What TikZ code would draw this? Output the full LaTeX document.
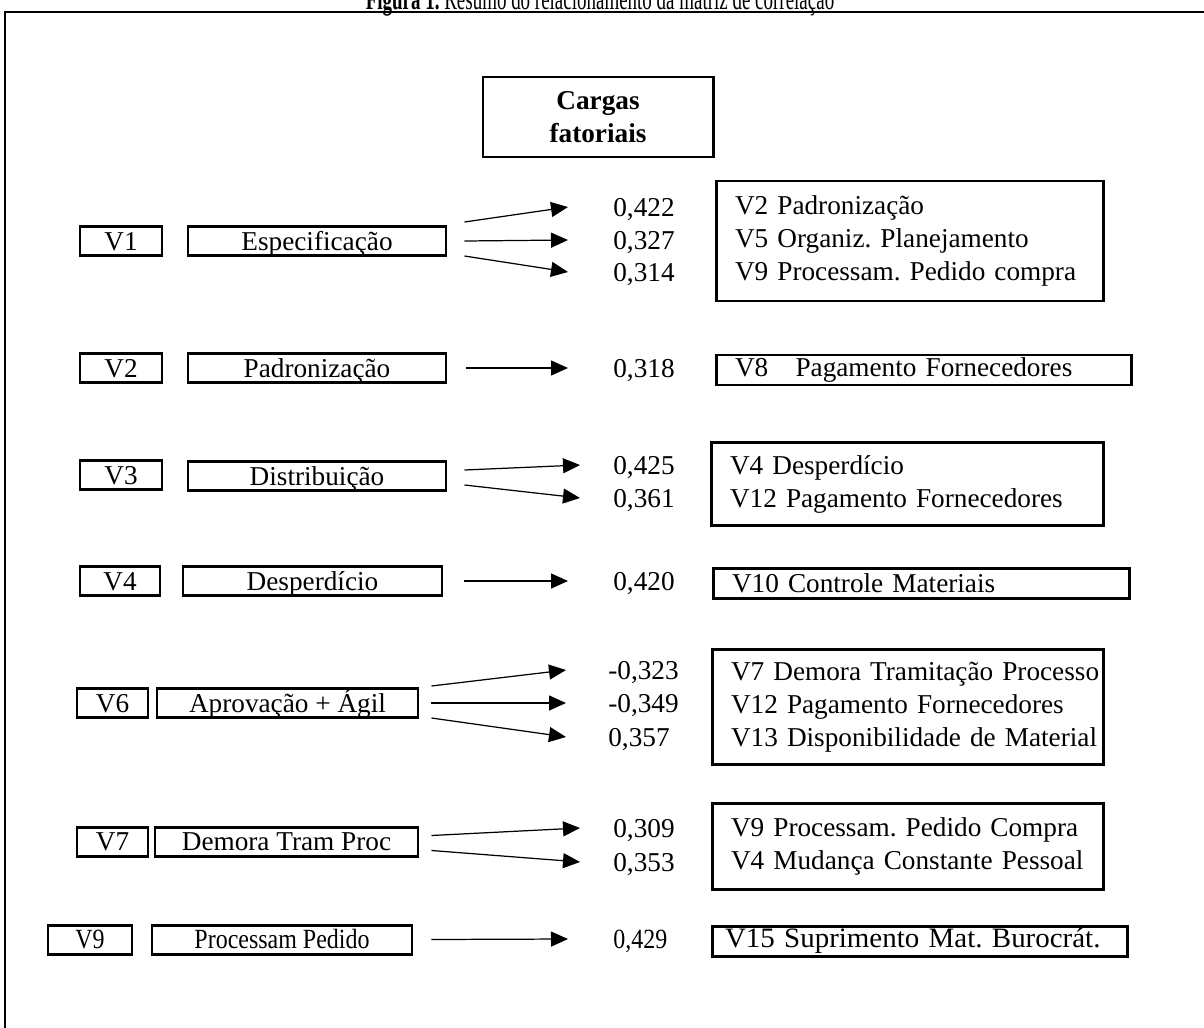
\documentclass[tikz,border=0pt]{standalone}
\usepackage{fontspec}
\setmainfont{Liberation Serif}
\usepackage{graphicx}
\usetikzlibrary{arrows.meta}
\frenchspacing
\hyphenpenalty=10000

\newcommand\cnd[1]{\scalebox{0.88}[1.02]{#1}}

\tikzset{
  lbl/.style = {draw, line width = 1.7pt, inner sep = 0pt, minimum height = 29*0.02cm, text height = 0.36cm, text depth = 0pt},
  grp/.style = {draw, line width = 1.7pt, inner xsep = 0.38cm, inner ysep = 0pt, align = left},
  val/.style = {anchor = west, inner sep = 0pt, text height = 0.36cm, text depth = 0pt},
  link/.style = {-{Triangle[length = 0.34cm, width = 0.3cm]}, line width = 0.7pt},
}

\begin{document}
\begin{tikzpicture}[x = 0.02cm, y = -0.02cm, font = \fontsize{15.5}{18.8}\selectfont]
\def\pxl{0.02cm}
\useasboundingbox (0, 0) rectangle (1204, 1028);

% title and frame
\node (title) [anchor = base, inner sep = 0pt, font = \fontsize{12}{14}\selectfont] at (600, 9) {\scalebox{0.9}[1.45]{\textbf{Figura 1.} Resumo do relacionamento da matriz de correlação}};
\draw [line width = 1.7pt] (5, 1040) -- (5, 12) -- (1215, 12);

% header
\node (cargas) [draw, line width = 1.7pt, minimum width = 230*\pxl, minimum height = 80*\pxl, align = center, font = \fontsize{15.5}{18.8}\selectfont\bfseries] at (598, 117) {Cargas\\fatoriais};

% V1
\node (v1) [lbl, minimum width = 82*\pxl] at (121, 241) {V1};
\node (esp) [lbl, minimum width = 258*\pxl] at (317, 241) {Especificação};
\node (c11) [val] at (613, 207) {0,422};
\node (c12) [val] at (613, 240) {0,327};
\node (c13) [val] at (613, 272) {0,314};
\node (g1) [grp, text width = 7cm, minimum height = 120*\pxl] at (910, 241) {V2 Padronização\\V5 Organiz. Planejamento\\V9 Processam. Pedido compra};
\draw [link] ([xshift = 17*\pxl, yshift = 19*\pxl] esp.east) -- ([xshift = -45*\pxl] c11.west);
\draw [link] ([xshift = 17*\pxl] esp.east) -- ([xshift = -45*\pxl] c12.west);
\draw [link] ([xshift = 17*\pxl, yshift = -15*\pxl] esp.east) -- ([xshift = -45*\pxl] c13.west);

% V2
\node (v2) [lbl, minimum width = 82*\pxl] at (121, 368) {V2};
\node (pad) [lbl, minimum width = 258*\pxl] at (317, 368) {Padronização};
\node (c21) [val] at (613, 368) {0,318};
\node (g2) [grp, text width = 7.56cm, minimum height = 30*\pxl] at (924, 370) {V8\ \ \ Pagamento Fornecedores};
\draw [link] ([xshift = 19*\pxl] pad.east) -- ([xshift = -45*\pxl] c21.west);

% V3
\node (v3) [lbl, minimum width = 82*\pxl] at (121, 475) {V3};
\node (dist) [lbl, minimum width = 258*\pxl] at (317, 476) {Distribuição};
\node (c31) [val] at (613, 465) {0,425};
\node (c32) [val] at (613, 498) {0,361};
\node (g3) [grp, text width = 7.1cm, minimum height = 83*\pxl] at (907.5, 484) {V4 Desperdício\\V12 Pagamento Fornecedores};
\draw [link] ([xshift = 17*\pxl, yshift = 6*\pxl] dist.east) -- ([xshift = -33*\pxl] c31.west);
\draw [link] ([xshift = 17*\pxl, yshift = -9*\pxl] dist.east) -- ([xshift = -33*\pxl] c32.west);

% V4
\node (v4) [lbl, minimum width = 80*\pxl] at (120, 581) {V4};
\node (desp) [lbl, minimum width = 259*\pxl] at (312.5, 581) {Desperdício};
\node (c41) [val] at (613, 581) {0,420};
\node (g4) [grp, text width = 7.58cm, minimum height = 30*\pxl] at (921.5, 583) {V10 Controle Materiais};
\draw [link] ([xshift = 21*\pxl] desp.east) -- ([xshift = -45*\pxl] c41.west);

% V6
\node (v6) [lbl, minimum width = 71*\pxl] at (112.5, 703) {V6};
\node (apr) [lbl, minimum width = 261*\pxl] at (287.5, 703) {Aprovação + Ágil};
\node (c61) [val] at (608, 670) {-0,323};
\node (c62) [val] at (608, 703) {-0,349};
\node (c63) [val] at (608, 737) {0,357};
\node (g6) [grp, text width = 7.08cm, minimum height = 115*\pxl] at (908, 707) {V7~Demora~Tramitação~Processo\\V12 Pagamento Fornecedores\\V13~Disponibilidade~de~Material};
\draw [link] ([xshift = 12*\pxl, yshift = 17*\pxl] apr.east) -- ([xshift = -42*\pxl] c61.west);
\draw [link] ([xshift = 12*\pxl] apr.east) -- ([xshift = -42*\pxl] c62.west);
\draw [link] ([xshift = 12*\pxl, yshift = -15*\pxl] apr.east) -- ([xshift = -42*\pxl] c63.west);

% V7
\node (v7) [lbl, minimum width = 71*\pxl] at (112.5, 841.5) {V7};
\node (dem) [lbl, minimum width = 263*\pxl] at (286.5, 841.5) {Demora Tram Proc};
\node (c71) [val] at (613, 828) {0,309};
\node (c72) [val] at (613, 862) {0,353};
\node (g7) [grp, text width = 7.08cm, minimum height = 86*\pxl] at (908, 846) {V9 Processam. Pedido Compra\\V4 Mudança Constante Pessoal};
\draw [link] ([xshift = 12*\pxl, yshift = 6*\pxl] dem.east) -- ([xshift = -33*\pxl] c71.west);
\draw [link] ([xshift = 12*\pxl, yshift = -9*\pxl] dem.east) -- ([xshift = -33*\pxl] c72.west);

% V9
\node (v9) [lbl, minimum width = 84*\pxl] at (90, 939.5) {\cnd{V9}};
\node (proc) [lbl, minimum width = 260*\pxl] at (282, 939.5) {\cnd{Processam Pedido}};
\node (c91) [val] at (613, 939) {\cnd{0,429}};
\node (g9) [grp, inner xsep = 0.26cm, text width = 7.8cm, minimum height = 30*\pxl] at (920, 941) {\scalebox{1.03}[1]{\fontsize{16}{19}\selectfont V15 Suprimento Mat. Burocrát.}};
\draw [link] ([xshift = 18*\pxl] proc.east) -- ([xshift = -45*\pxl] c91.west);
\end{tikzpicture}
\end{document}
